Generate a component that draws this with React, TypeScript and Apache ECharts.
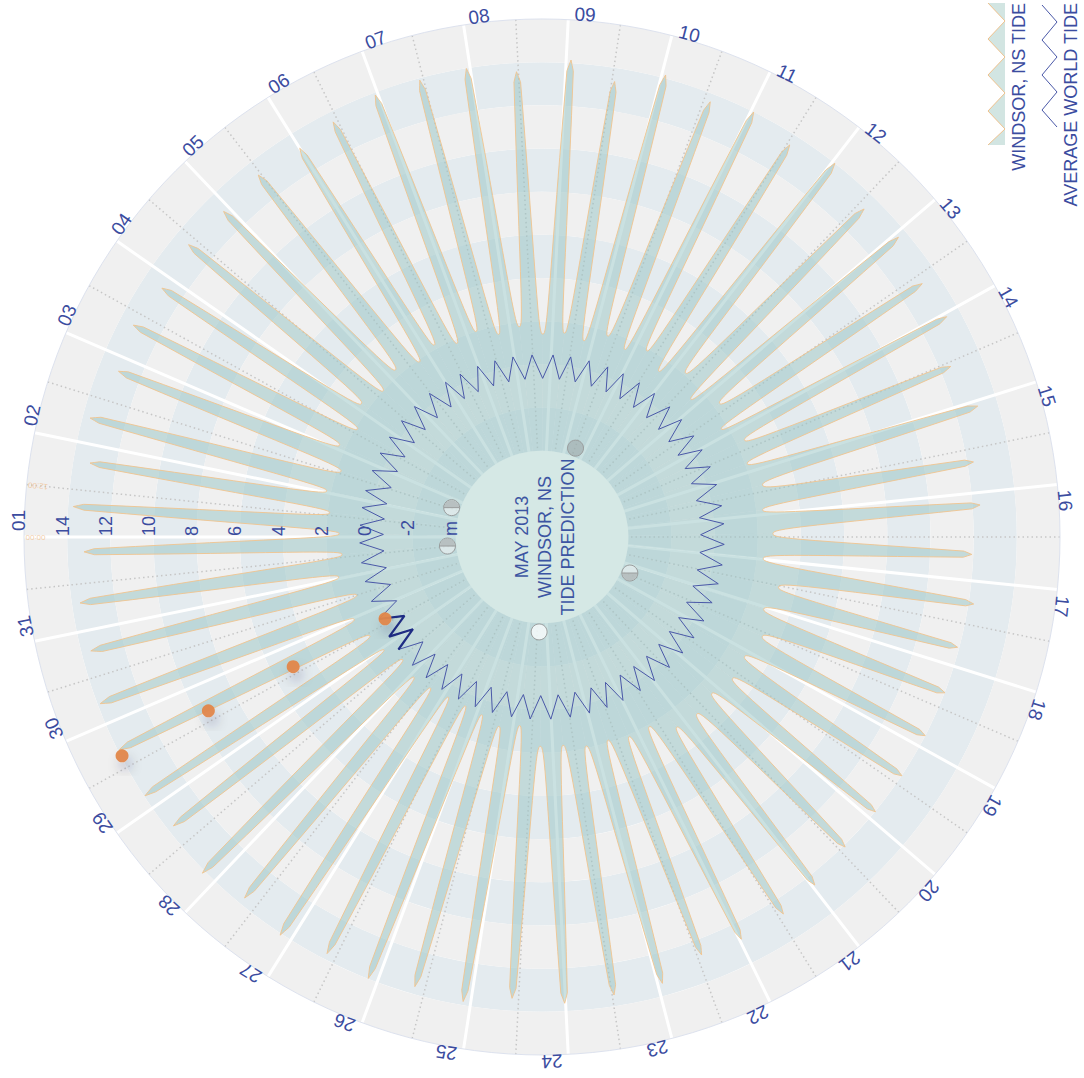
import React, { useEffect, useRef } from "react";
import * as echarts from "echarts";

// ---------- data ----------
const DAY_LABELS = [
  "01", "02", "03", "04", "05", "06", "07", "08", "09", "10",
  "11", "12", "13", "14", "15", "16", "17", "18", "19", "20",
  "21", "22", "23", "24", "25", "26", "27", "28", "29", "30", "31",
];

// radial tick values (m) and their printed labels
const RADIUS_TICK_VALUES = [14, 12, 10, 8, 6, 4, 2, 0, -2, -4];
const RADIUS_TICK_LABELS = ["14", "12", "10", "8", "6", "4", "2", "0", "-2", "m"];

// hour marks printed on the first day
const TIME_LABELS = ["00:00", "12:00"];
const TIME_LABEL_ANGLES = [0, 0.5];

// high tides: time in days from May 1 00:00, height in m
const HIGH_TIMES = [
  0.32, 0.8, 1.27, 1.84, 2.36, 2.86, 3.41, 3.93, 4.47, 5.0,
  5.45, 5.97, 6.46, 6.96, 7.48, 8.05, 8.53, 9.04, 9.57, 10.03,
  10.53, 11.03, 11.58, 12.05, 12.6, 13.04, 13.55, 14.06, 14.65, 15.14,
  15.7, 16.26, 16.78, 17.32, 17.86, 18.39, 18.9, 19.43, 19.97, 20.44,
  20.98, 21.45, 21.95, 22.48, 23.01, 23.57, 24.08, 24.61, 25.1, 25.6,
  26.12, 26.65, 27.15, 27.72, 28.15, 28.7, 29.22, 29.78, 30.3, 30.84,
];
const HIGH_HEIGHTS = [
  13.76, 13.22, 13.65, 13.07, 13.33, 13.05, 13.25, 13.1, 13.31, 13.22,
  13.53, 13.89, 13.91, 13.99, 13.59, 14.14, 13.37, 14.16, 13.62, 14.0,
  13.49, 14.0, 13.3, 13.58, 13.17, 13.35, 12.52, 13.08, 12.29, 12.35,
  11.93, 12.24, 11.92, 12.02, 12.0, 12.01, 12.02, 12.09, 12.49, 12.74,
  12.8, 12.73, 13.42, 13.48, 13.63, 13.42, 13.83, 13.65, 13.98, 13.72,
  14.08, 13.67, 14.14, 13.7, 13.96, 13.93, 13.88, 13.56, 13.62, 13.23,
];
// low tides (first and last are the same low, on either side of the 31-day seam)
const LOW_TIMES = [
  0.08, 0.56, 1.04, 1.56, 2.1, 2.61, 3.14, 3.67, 4.2, 4.74,
  5.23, 5.71, 6.22, 6.71, 7.22, 7.77, 8.29, 8.79, 9.31, 9.8,
  10.28, 10.78, 11.3, 11.82, 12.32, 12.83, 13.3, 13.81, 14.36, 14.9,
  15.43, 15.98, 16.53, 17.05, 17.59, 18.13, 18.65, 19.17, 19.7, 20.21,
  20.71, 21.22, 21.7, 22.22, 22.75, 23.29, 23.83, 24.35, 24.86, 25.35,
  25.86, 26.39, 26.9, 27.44, 27.94, 28.43, 28.96, 29.5, 30.04, 30.57,
  31.08,
];
const LOW_HEIGHTS = [
  1.4, 1.9, 2.2, 1.8, 2.3, 1.9, 2.4, 2.0, 2.3, 1.9,
  2.2, 1.8, 2.0, 1.6, 1.8, 1.4, 1.5, 1.3, 1.8, 1.5,
  1.9, 1.4, 2.1, 1.4, 2.3, 1.7, 2.4, 2.1, 2.5, 2.3,
  2.7, 2.3, 3.2, 2.8, 3.2, 2.9, 3.0, 2.7, 2.9, 2.8,
  2.1, 2.1, 1.9, 1.9, 1.7, 1.7, 0.8, 1.0, 0.7, 0.6,
  0.6, 0.7, 0.8, 0.6, 1.0, 1.2, 1.5, 1.0, 1.6, 1.3,
  1.4,
];

// average world tide (m) at the same high / low moments
const WORLD_HIGH = 0.45;
const WORLD_LOW = -0.65;
const HIGHLIGHT_FROM = 27.7;
const HIGHLIGHT_TO = 28.75;

// "now" markers
const NOW_TIME = 28.63;
const NOW_VALUES = [0.2, 5.0, 9.43, 13.94];

// moon phases
const MOON_TIMES = [1.55, 9.53, 17.42, 23.4, 30.53];
const MOON_PHASES = ["last", "new", "first", "full", "last"];
const MOON_RADIUS_VALUE = -3.6;

// ---------- styling ----------
const FONT_FAMILY = '"Liberation Sans", "Helvetica Neue", Arial, sans-serif';
const TEXT_COLOR = "#3b4c9f";
// drawing style of the tide curve between a low and the next high (peaked Windsor tide)
const CURVE_STEPS = 16;
const CAP_AT = 0.87;
const CAP_LEVEL = 0.96;
const RISE_EXP = 2.7;

function textStyle(text: string, size: number, color: string, align: string, vAlign: string) {
  return {
    text,
    fill: color,
    textFill: color,
    font: `${size}px ${FONT_FAMILY}`,
    fontSize: size,
    fontFamily: FONT_FAMILY,
    align,
    textAlign: align,
    verticalAlign: vAlign,
    textVerticalAlign: vAlign,
  };
}

function frame(params: any, api: any, r: number, a: number) {
  const cs = params.coordSys;
  const p = api.coord([r, a]);
  const dx = p[0] - cs.cx;
  const dy = p[1] - cs.cy;
  const len = Math.hypot(dx, dy) || 1;
  const ux = dx / len;
  const uy = dy / len;
  return { p, len, ux, uy, tx: -uy, ty: ux, theta: Math.atan2(-uy, ux), cx: cs.cx, cy: cs.cy };
}

function riseShape(f: number) {
  if (f <= CAP_AT) return CAP_LEVEL * Math.pow(f / CAP_AT, RISE_EXP);
  return CAP_LEVEL + (1 - CAP_LEVEL) * (f - CAP_AT) / (1 - CAP_AT);
}

// curve from a low (rL, aL) to a high (rH, aH), through the polar scales
function tideCurve(api: any, rL: number, aL: number, rH: number, aH: number) {
  const pts: number[][] = [];
  const fs: number[] = [];
  for (let k = 0; k <= CURVE_STEPS; k++) fs.push(k / CURVE_STEPS);
  fs.push(CAP_AT);
  fs.sort((a, b) => a - b);
  for (const f of fs) {
    const w = riseShape(f);
    pts.push(api.coord([rL + (rH - rL) * w, aL + (aH - aL) * f]));
  }
  return pts;
}

function buildOption() {
  const tideCycles = HIGH_TIMES.map((t, i) => [
    HIGH_HEIGHTS[i], t, LOW_HEIGHTS[i], LOW_TIMES[i], LOW_HEIGHTS[i + 1], LOW_TIMES[i + 1],
  ]);
  const worldData: number[][] = [];
  for (let i = 0; i < HIGH_TIMES.length; i++) {
    worldData.push([WORLD_LOW, LOW_TIMES[i]]);
    worldData.push([WORLD_HIGH, HIGH_TIMES[i]]);
  }
  worldData.push([WORLD_LOW, LOW_TIMES[LOW_TIMES.length - 1]]);
  const highlightData = worldData.filter((d) => d[1] >= HIGHLIGHT_FROM && d[1] <= HIGHLIGHT_TO);

  return {
    animation: false,
    polar: { center: [542, 537], radius: [0, 518] },
    angleAxis: {
      type: "value",
      min: 0,
      max: 31,
      interval: 1,
      startAngle: 180,
      clockwise: true,
      z: 1,
      axisLine: { show: true, lineStyle: { color: "#dde2ee", width: 1 } },
      axisTick: { show: false },
      axisLabel: { show: false },
      splitLine: { show: true, lineStyle: { color: "#ffffff", width: 3 } },
      minorTick: { show: false, splitNumber: 2 },
      minorSplitLine: { show: true, lineStyle: { color: "#c6c6c6", width: 1.5, type: [1.5, 3] } },
    },
    radiusAxis: {
      type: "value",
      min: -8,
      max: 16,
      interval: 2,
      z: 0,
      axisLine: { show: false },
      axisTick: { show: false },
      axisLabel: { show: false },
      splitLine: { show: true, lineStyle: { color: "rgba(255,255,255,0.7)", width: 1 } },
      splitArea: { show: true, areaStyle: { color: ["#e4ebef", "#f0f0f0"] } },
    },
    graphic: [
      {
        type: "text",
        x: 545,
        y: 537,
        rotation: Math.PI / 2,
        z: 100,
        style: { ...textStyle("MAY 2013\nWINDSOR, NS\nTIDE PREDICTION", 18, "#3c55a2", "center", "middle"), lineHeight: 23, textLineHeight: 23 },
      },
      {
        type: "polygon",
        z: 100,
        shape: {
          points: [
            [988, 3], [1005, 21], [988, 39], [1005, 57], [988, 75], [1005, 93],
            [988, 111], [1005, 129], [988, 145], [1005, 145], [1005, 3],
          ],
        },
        style: { fill: "#d2e5e2" },
      },
      {
        type: "polyline",
        z: 101,
        shape: {
          points: [
            [988, 3], [1005, 21], [988, 39], [1005, 57], [988, 75], [1005, 93],
            [988, 111], [1005, 129], [988, 145],
          ],
        },
        style: { stroke: "#f0c28e", lineWidth: 1, fill: null },
      },
      {
        type: "polyline",
        z: 101,
        shape: {
          points: [
            [1042, 5], [1057, 22], [1042, 40], [1057, 57], [1042, 75], [1057, 92],
            [1042, 110], [1057, 127],
          ],
        },
        style: { stroke: "#4a58a8", lineWidth: 1, fill: null },
      },
      {
        type: "text",
        x: 1019,
        y: 3,
        rotation: Math.PI / 2,
        z: 101,
        style: textStyle("WINDSOR, NS TIDE", 18, TEXT_COLOR, "right", "middle"),
      },
      {
        type: "text",
        x: 1071,
        y: 3,
        rotation: Math.PI / 2,
        z: 101,
        style: textStyle("AVERAGE WORLD TIDE", 18, TEXT_COLOR, "right", "middle"),
      },
    ],
    series: [
      {
        name: "WINDSOR, NS TIDE",
        type: "custom",
        coordinateSystem: "polar",
        silent: true,
        z: 2,
        data: tideCycles,
        renderItem: (params: any, api: any) => {
          const cs = params.coordSys;
          const rise = tideCurve(api, api.value(2), api.value(3), api.value(0), api.value(1));
          const fall = tideCurve(api, api.value(4), api.value(5), api.value(0), api.value(1)).reverse();
          const pts = rise.concat(fall.slice(1));
          return {
            type: "group",
            children: [
              {
                type: "polygon",
                shape: { points: [[cs.cx, cs.cy]].concat(pts) },
                style: { fill: "rgba(150,196,196,0.5)" },
              },
              {
                type: "polyline",
                shape: { points: pts },
                style: { stroke: "#f1c48f", lineWidth: 0.9, fill: null },
              },
            ],
          };
        },
      },
      {
        type: "custom",
        coordinateSystem: "polar",
        silent: true,
        z: 3,
        data: [[-8, 0]],
        renderItem: (params: any, api: any) => {
          const f = frame(params, api, -4, 0);
          return {
            type: "circle",
            shape: { cx: f.cx, cy: f.cy, r: f.len },
            style: { fill: "#d5e8e5" },
          };
        },
      },
      {
        name: "AVERAGE WORLD TIDE",
        type: "line",
        coordinateSystem: "polar",
        data: worldData,
        symbol: "none",
        silent: true,
        z: 4,
        lineStyle: { color: "#4a58a8", width: 1 },
      },
      {
        type: "line",
        coordinateSystem: "polar",
        data: highlightData,
        symbol: "none",
        silent: true,
        z: 5,
        lineStyle: { color: "#1f2c84", width: 2.2 },
      },
      {
        type: "custom",
        coordinateSystem: "polar",
        silent: true,
        z: 6,
        data: MOON_TIMES.map((t) => [MOON_RADIUS_VALUE, t]),
        renderItem: (params: any, api: any) => {
          const f = frame(params, api, api.value(0), api.value(1));
          const phase = MOON_PHASES[params.dataIndex];
          const cx = f.p[0];
          const cy = f.p[1];
          const r = 8;
          const children: any[] = [
            {
              type: "circle",
              shape: { cx, cy, r },
              style: {
                fill: phase === "new" ? "rgba(150,155,155,0.45)" : phase === "full" ? "rgba(255,255,255,0.75)" : "rgba(240,244,244,0.6)",
                stroke: "#9a9d9d",
                lineWidth: 1,
              },
            },
          ];
          if (phase === "last" || phase === "first") {
            const top = phase === "last";
            children.push({
              type: "sector",
              shape: { cx, cy, r0: 0, r: r - 0.5, startAngle: top ? Math.PI : 0, endAngle: top ? Math.PI * 2 : Math.PI, clockwise: true },
              style: { fill: "rgba(140,145,145,0.45)" },
            });
            children.push({
              type: "line",
              shape: { x1: cx - r, y1: cy, x2: cx + r, y2: cy },
              style: { stroke: "#9a9d9d", lineWidth: 1 },
            });
          }
          return { type: "group", children };
        },
      },
      {
        type: "scatter",
        coordinateSystem: "polar",
        silent: true,
        z: 7,
        symbol: "circle",
        symbolSize: 13,
        data: NOW_VALUES.map((v) => [v, NOW_TIME]),
        itemStyle: {
          color: "#e2874a",
          opacity: 0.95,
          shadowBlur: 12,
          shadowColor: "rgba(40,40,60,0.22)",
          shadowOffsetX: 3,
          shadowOffsetY: 8,
        },
      },
      {
        type: "custom",
        coordinateSystem: "polar",
        silent: true,
        z: 10,
        data: DAY_LABELS.map((_, i) => [16, i]),
        renderItem: (params: any, api: any) => {
          const f = frame(params, api, 16, api.value(1));
          return {
            type: "text",
            x: f.p[0] + f.ux * 6 + f.tx * 6,
            y: f.p[1] + f.uy * 6 + f.ty * 6,
            rotation: f.theta - Math.PI / 2,
            style: textStyle(DAY_LABELS[params.dataIndex], 19, TEXT_COLOR, "left", "middle"),
          };
        },
      },
      {
        type: "custom",
        coordinateSystem: "polar",
        silent: true,
        z: 10,
        data: RADIUS_TICK_VALUES.map((v) => [v, 0]),
        renderItem: (params: any, api: any) => {
          const f = frame(params, api, api.value(0), 0);
          return {
            type: "text",
            x: f.p[0] + f.ux * 4.5 + f.tx * 1,
            y: f.p[1] + f.uy * 4.5 + f.ty * 1,
            rotation: f.theta - Math.PI / 2,
            style: textStyle(RADIUS_TICK_LABELS[params.dataIndex], 18, TEXT_COLOR, "left", "middle"),
          };
        },
      },
      {
        type: "custom",
        coordinateSystem: "polar",
        silent: true,
        z: 10,
        data: TIME_LABEL_ANGLES.map((a) => [16, a]),
        renderItem: (params: any, api: any) => {
          const f = frame(params, api, 16, api.value(1));
          return {
            type: "text",
            x: f.p[0] - f.ux * 1.5,
            y: f.p[1] - f.uy * 1.5,
            rotation: f.theta,
            style: textStyle(TIME_LABELS[params.dataIndex], 8, "rgba(240,190,140,0.75)", "right", "middle"),
          };
        },
      },
    ],
  };
}

export default function App() {
  const ref = useRef<HTMLDivElement>(null);
  useEffect(() => {
    if (!ref.current) return;
    const chart = echarts.init(ref.current, null, { renderer: "svg" });
    chart.setOption(buildOption() as any);
    return () => chart.dispose();
  }, []);
  return (
    <div
      ref={ref}
      style={{ position: "absolute", left: 0, top: 0, width: 1084, height: 1078, background: "#ffffff" }}
    />
  );
}
